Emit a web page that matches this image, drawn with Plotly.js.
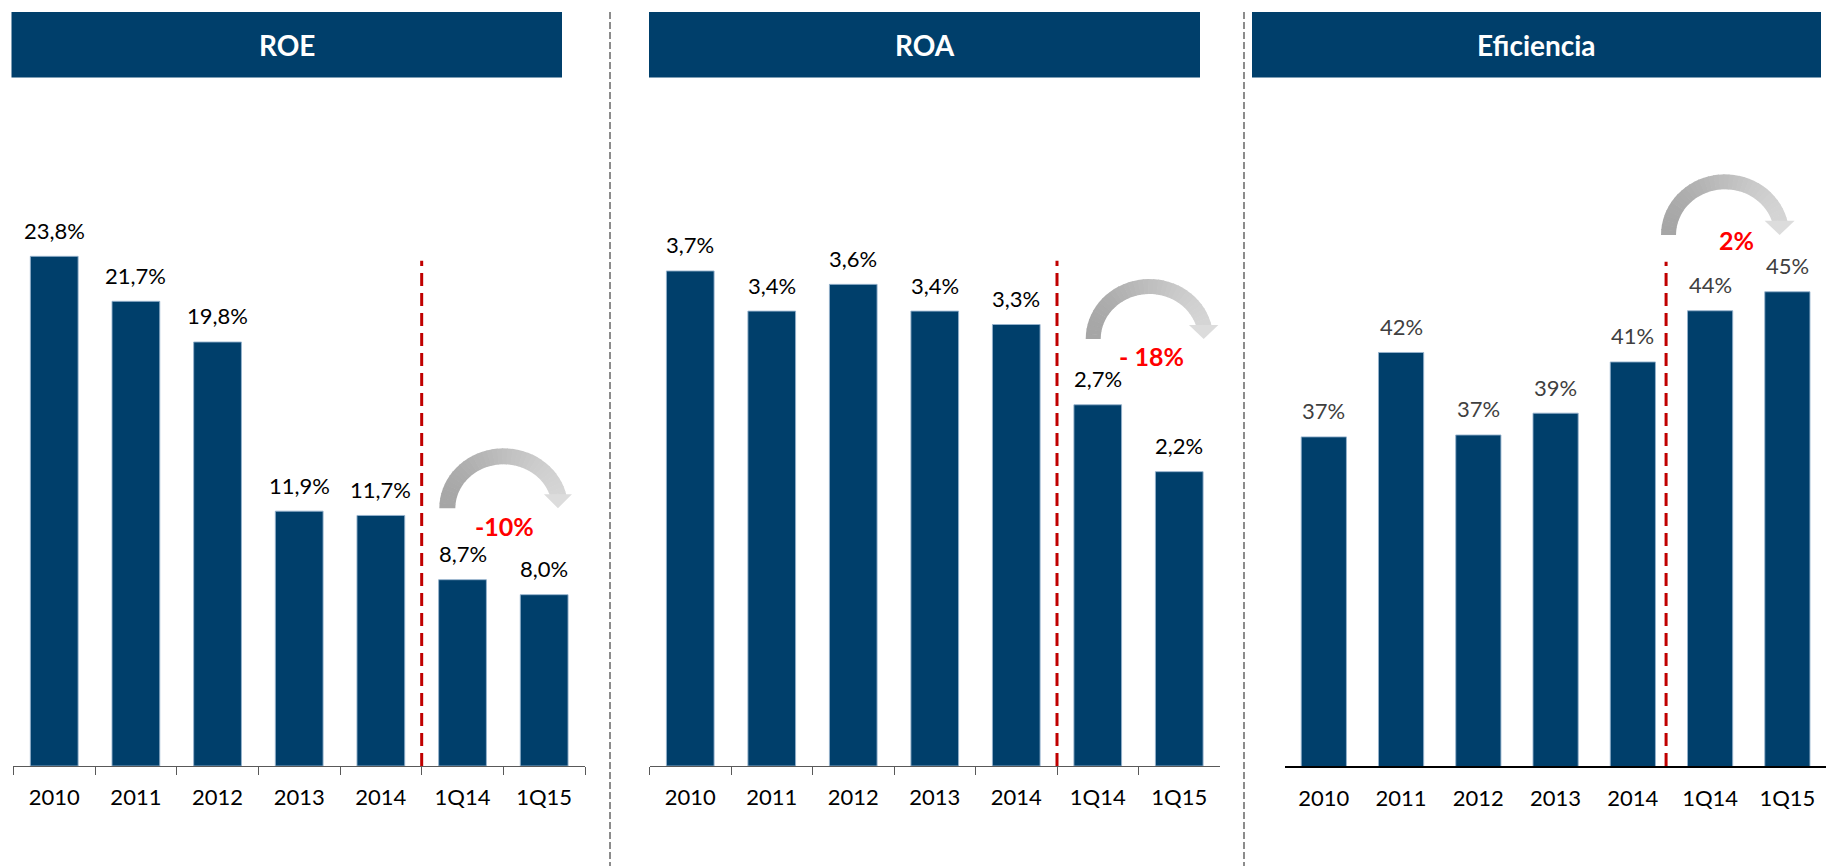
<!DOCTYPE html>
<html>
<head>
<meta charset="utf-8">
<script src="https://cdn.plot.ly/plotly-3.0.1.min.js"></script>
<style>html,body{margin:0;padding:0;background:#fff;}#chart{width:1829px;height:866px;}</style>
</head>
<body>
<div id="chart"></div>
<script>
// ---- data ----
const categories = ['2010', '2011', '2012', '2013', '2014', '1Q14', '1Q15'];
const roeValues = [23.8, 21.7, 19.8, 11.9, 11.7, 8.7, 8.0];
const roaValues = [3.7, 3.4, 3.6, 3.4, 3.3, 2.7, 2.2];
const eficienciaValues = [37.35, 41.8, 37.45, 38.6, 41.3, 44.0, 45.0];
const panelTitles = ['ROE', 'ROA', 'Eficiencia'];
const changeLabels = ['-10%', '- 18%', '2%'];

// ---- helpers ----
const W = 1829, H = 866;
const px = x => x / W;
const py = y => 1 - y / H;
const NAVY = '#003f6b';
const FONT = 'Lato, "Open Sans", sans-serif';

const fmtDec = v => v.toFixed(1).replace('.', ',') + '%';
const fmtInt = v => Math.round(v) + '%';

const traces = [
  {x: categories, y: roeValues, xaxis: 'x', yaxis: 'y'},
  {x: categories, y: roaValues, xaxis: 'x2', yaxis: 'y2'},
  {x: categories, y: eficienciaValues, xaxis: 'x3', yaxis: 'y3'}
].map(t => Object.assign(t, {
  type: 'bar',
  marker: {color: NAVY, line: {color: 'rgba(150,178,205,0.9)', width: 1}},
  hoverinfo: 'x+y',
  showlegend: false
}));

const yBottom = py(766), yTop = py(100);
function xAxis(dom, efic) {
  return {
    domain: dom,
    type: 'category', range: [-0.5, 6.5], fixedrange: true,
    showgrid: false, zeroline: false,
    showline: true,
    linecolor: efic ? '#000000' : '#595959',
    linewidth: efic ? 2 : 1,
    ticks: efic ? '' : 'outside',
    tickson: 'boundaries',
    ticklen: 8, tickcolor: '#595959', tickwidth: 1,
    ticklabelstandoff: 12,
    tickfont: {family: FONT, size: 22, color: '#000000'}
  };
}
function yAxis(range) {
  return {domain: [yBottom, yTop], range: range, visible: false, fixedrange: true,
          showgrid: false, zeroline: false};
}

const shapes = [];
const annotations = [];

// header boxes
const headers = [[11.5, 562], [649, 1200], [1252, 1821]];
headers.forEach((h, i) => {
  shapes.push({type: 'rect', xref: 'paper', yref: 'paper', x0: px(h[0]), x1: px(h[1]),
               y0: py(77.5), y1: py(12), fillcolor: NAVY, line: {width: 0}, layer: 'below'});
  annotations.push({xref: 'paper', yref: 'paper', x: px((h[0] + h[1]) / 2), y: py(44.8),
                    xanchor: 'center', yanchor: 'middle', showarrow: false, text: '<b>' + panelTitles[i] + '</b>',
                    font: {family: FONT, size: 28, color: '#ffffff'}});
});

// grey dashed separators
[610, 1244].forEach(x => shapes.push({type: 'line', xref: 'paper', yref: 'paper',
  x0: px(x), x1: px(x), y0: py(12), y1: 0, line: {color: '#8c8c8c', width: 2, dash: '7px,3px'}}));

// red dashed dividers
[['x', 4.5, 260.7], ['x2', 4.5, 260.7], ['x3', 4.43, 261.7]].forEach(d => shapes.push({
  type: 'line', xref: d[0], yref: 'paper', x0: d[1], x1: d[1], y0: py(766), y1: py(d[2]),
  line: {color: '#c00000', width: 3, dash: '13px,7px'}}));

// bar value labels (x given as category index)
function addLabels(vals, xr, yr, fmt, color) {
  vals.forEach((v, i) => annotations.push({xref: xr, yref: yr, x: i, y: v,
    yanchor: 'middle', xanchor: 'center', yshift: 26, showarrow: false, text: fmt(v),
    font: {family: FONT, size: 22, color: color}}));
}
addLabels(roeValues, 'x', 'y', fmtDec, '#000000');
addLabels(roaValues, 'x2', 'y2', fmtDec, '#000000');
addLabels(eficienciaValues, 'x3', 'y3', fmtInt, '#404040');

// curved gradient arrows
function lerpColor(c0, c1, f) {
  const a = parseInt(c0.slice(1), 16), b = parseInt(c1.slice(1), 16);
  const ch = s => Math.round(((a >> s) & 255) * (1 - f) + ((b >> s) & 255) * f);
  return 'rgb(' + ch(16) + ',' + ch(8) + ',' + ch(0) + ')';
}
function pathOf(pts) {
  return 'M' + pts.map(p => px(p[0]).toFixed(5) + ',' + py(p[1]).toFixed(5)).join('L') + 'Z';
}
function addArrow(a) {
  const xmL = a.xl + a.t / 2;
  const cx = (xmL + a.xt) / 2;
  const rmx = (a.xt - xmL) / 2;
  const Ryo = a.yb - a.yt, rmy = Ryo - a.t / 2, Ryi = Ryo - a.t;
  const Rxo = rmx + a.t / 2, Rxi = rmx - a.t / 2;
  const thE = Math.asin(a.hh / rmy) - 0.06;
  const N = 36, c0 = '#a3a3a3', c1 = '#dcdcdc';
  const xL = a.xl, xR = a.xt + a.h;
  for (let i = 0; i < N; i++) {
    const t0 = Math.PI - (Math.PI - thE) * i / N;
    let t1 = Math.PI - (Math.PI - thE) * (i + 1) / N;
    if (i < N - 1) t1 -= 0.012;
    const o = t => [cx + Rxo * Math.cos(t), a.yb - Ryo * Math.sin(t)];
    const n = t => [cx + Rxi * Math.cos(t), a.yb - Ryi * Math.sin(t)];
    const tm = (t0 + t1) / 2;
    const f = Math.min(1, Math.max(0, ((cx + rmx * Math.cos(tm)) - xL) / (xR - xL)));
    shapes.push({type: 'path', xref: 'paper', yref: 'paper', path: pathOf([o(t0), o(t1), n(t1), n(t0)]),
                 fillcolor: lerpColor(c0, c1, f), line: {width: 0}});
  }
  const hx = cx + rmx * Math.cos(Math.asin(a.hh / rmy));
  shapes.push({type: 'path', xref: 'paper', yref: 'paper',
               path: pathOf([[hx - a.h, a.yb - a.hh], [hx + a.h, a.yb - a.hh], [hx, a.yb]]),
               fillcolor: c1, line: {width: 0}});
}
addArrow({xl: 439.3, yb: 508.3, xt: 560, yt: 448.3, t: 16, h: 14, hh: 14});
addArrow({xl: 1085.7, yb: 339, xt: 1205.7, yt: 279, t: 15, h: 14.7, hh: 14});
addArrow({xl: 1661, yb: 235, xt: 1781.7, yt: 174.3, t: 15, h: 15, hh: 14.3});

// change labels
[[505, 526], [1151.7, 356], [1736.7, 240]].forEach((p, i) => annotations.push({
  xref: 'paper', yref: 'paper', x: px(p[0]), y: py(p[1]), xanchor: 'center', yanchor: 'middle',
  showarrow: false, text: '<b>' + changeLabels[i] + '</b>',
  font: {family: FONT, size: 25, color: '#ff0000'}}));

const layout = {
  width: W, height: H,
  margin: {l: 0, r: 0, t: 0, b: 0, pad: 0},
  paper_bgcolor: '#ffffff', plot_bgcolor: 'rgba(0,0,0,0)',
  bargap: 0.415,
  showlegend: false,
  xaxis: Object.assign(xAxis([13.4 / W, 585 / W], false), {anchor: 'y'}),
  yaxis: Object.assign(yAxis([0, 31.1]), {anchor: 'x'}),
  xaxis2: Object.assign(xAxis([649.5 / W, 1220 / W], false), {anchor: 'y2'}),
  yaxis2: Object.assign(yAxis([0, 4.978]), {anchor: 'x2'}),
  xaxis3: Object.assign(xAxis([1285.2 / W, 1826 / W], true), {anchor: 'y3'}),
  yaxis3: Object.assign(yAxis([20, 55.11]), {anchor: 'x3'}),
  shapes: shapes,
  annotations: annotations
};

Plotly.newPlot('chart', traces, layout, {displayModeBar: false, staticPlot: true});
</script>
</body>
</html>
